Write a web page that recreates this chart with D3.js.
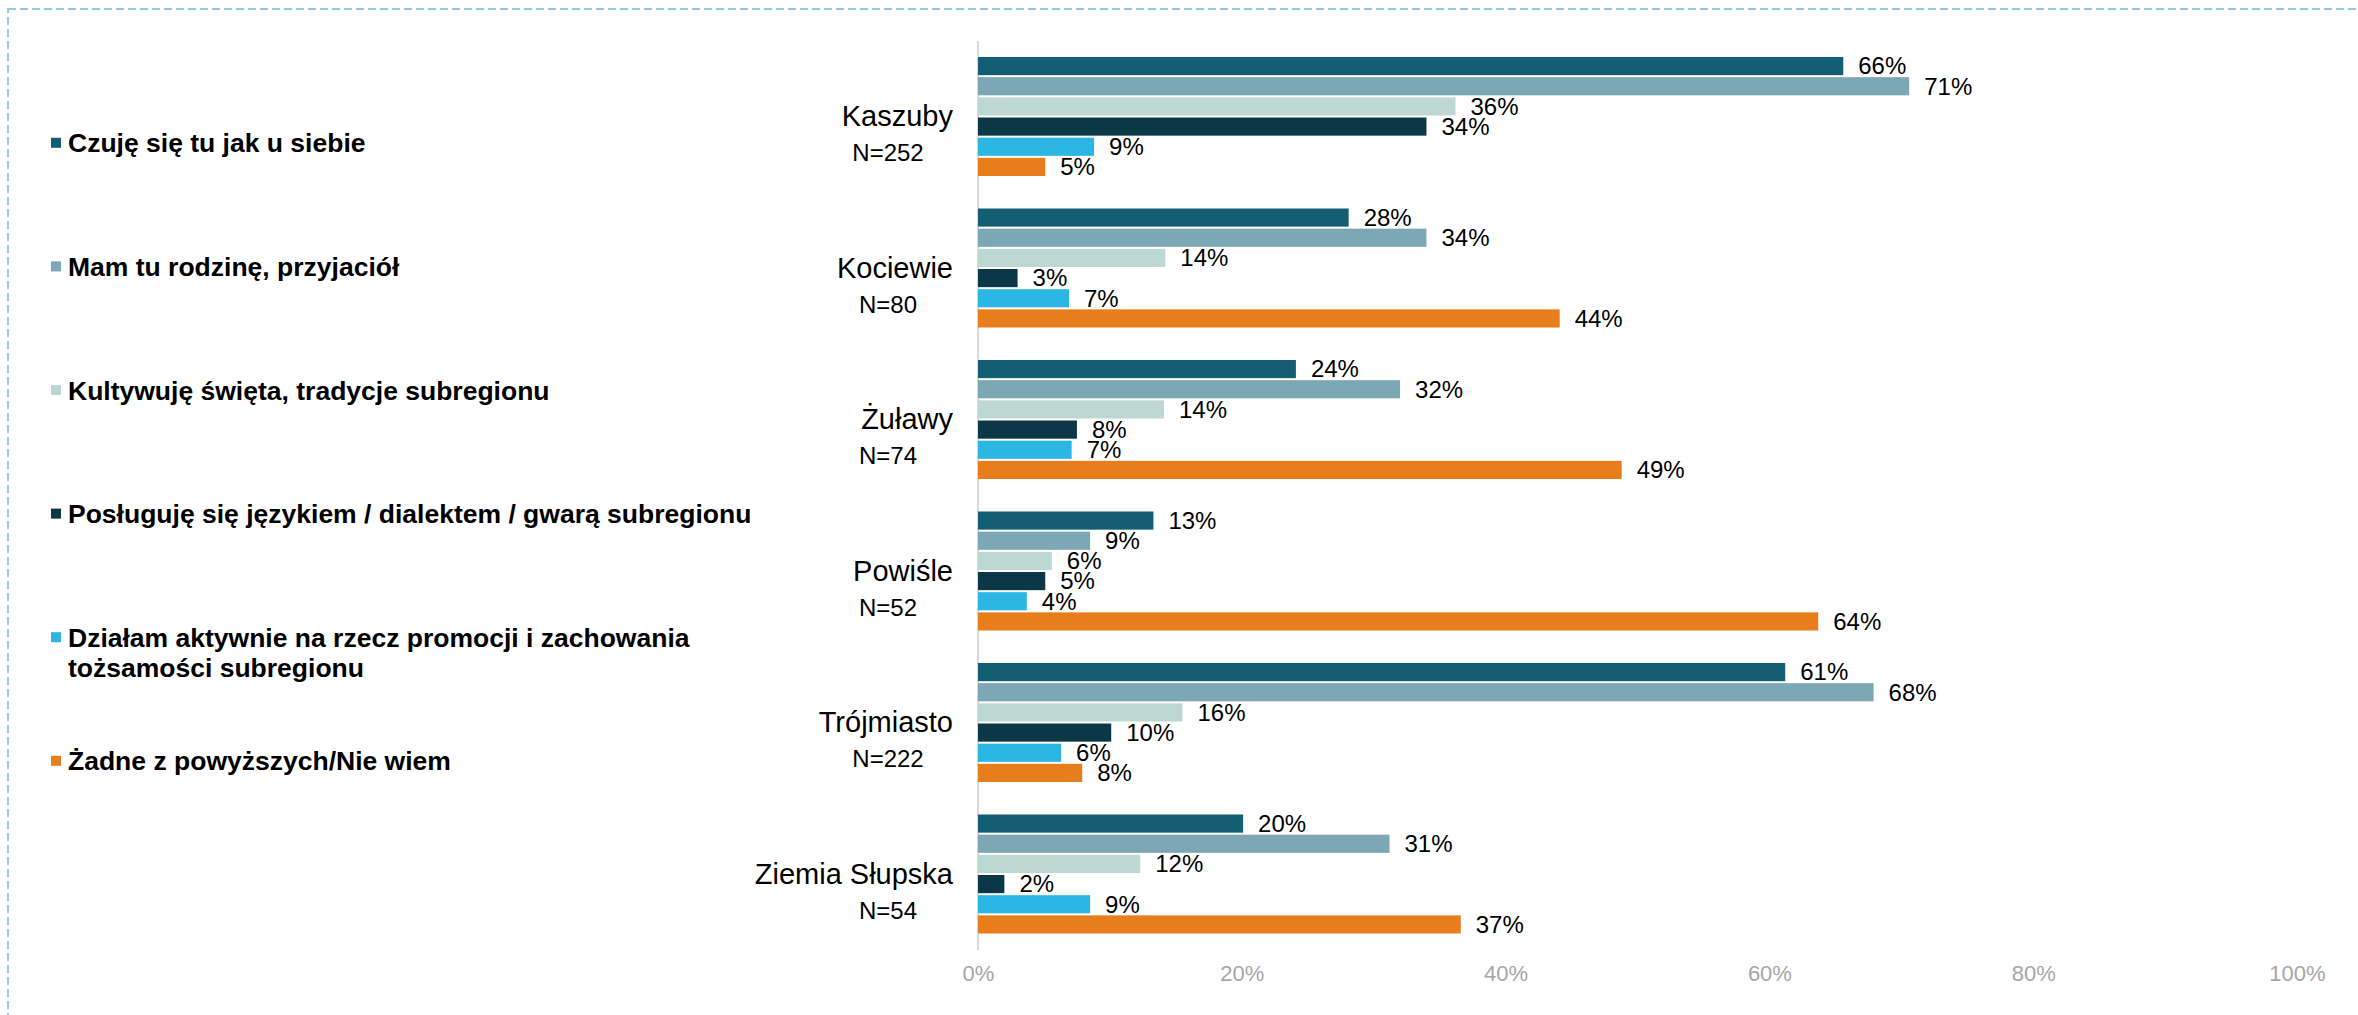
<!DOCTYPE html>
<html>
<head>
<meta charset="utf-8">
<script src="https://cdn.jsdelivr.net/npm/d3@7"></script>
<style>
  html, body { margin: 0; padding: 0; background: #fff; }
  svg { display: block; font-family: "Liberation Sans", Arial, sans-serif; }
</style>
</head>
<body>
<svg id="chart" width="2358" height="1015"></svg>
<script>
// Subregions and sample sizes
const regions = ['Kaszuby', 'Kociewie', 'Żuławy', 'Powiśle', 'Trójmiasto', 'Ziemia Słupska'];
const sampleSizes = ['N=252', 'N=80', 'N=74', 'N=52', 'N=222', 'N=54'];

// Answers (legend order = bar order inside each group)
const answers = [
  ['Czuję się tu jak u siebie'],
  ['Mam tu rodzinę, przyjaciół'],
  ['Kultywuję święta, tradycje subregionu'],
  ['Posługuję się językiem / dialektem / gwarą subregionu'],
  ['Działam aktywnie na rzecz promocji i zachowania', 'tożsamości subregionu'],
  ['Żadne z powyższych/Nie wiem']
];
const colors = ['#135E73', '#7DA7B4', '#BDD7D3', '#0B3747', '#2BB6E3', '#E87D1B'];

// Percent values per answer, in region order
const feelAtHome   = [65.6, 28.1, 24.1, 13.3, 61.2, 20.1];
const family       = [70.6, 34.0, 32.0, 8.5, 67.9, 31.2];
const traditions   = [36.2, 14.2, 14.1, 5.6, 15.5, 12.3];
const dialect      = [34.0, 3.0, 7.5, 5.1, 10.1, 2.0];
const promotion    = [8.8, 6.9, 7.1, 3.7, 6.3, 8.5];
const noneOfThese  = [5.1, 44.1, 48.8, 63.7, 7.9, 36.6];

const tickValues = [0, 20, 40, 60, 80, 100];

const series = [feelAtHome, family, traditions, dialect, promotion, noneOfThese];

const svg = d3.select('#chart');

// dashed frame
svg.append('rect')
  .attr('x', 8).attr('y', 9)
  .attr('width', 2400).attr('height', 1100)
  .attr('fill', 'none')
  .attr('stroke', '#92CDDC')
  .attr('stroke-width', 2)
  .attr('stroke-dasharray', '8,4');

const x = d3.scaleLinear().domain([0, 100]).range([978, 2297]);
const y0 = d3.scaleBand().domain(regions).range([41, 950]);
const y1 = d3.scaleBand().domain(d3.range(series.length)).range([16, 135]).paddingInner(0.1);

// vertical axis line
svg.append('line')
  .attr('x1', x(0)).attr('x2', x(0))
  .attr('y1', y0.range()[0]).attr('y2', y0.range()[1])
  .attr('stroke', '#D9D9D9')
  .attr('stroke-width', 2);

// x axis labels
const xAxis = svg.append('g')
  .attr('transform', `translate(0,${y0.range()[1]})`)
  .call(d3.axisBottom(x).tickValues(tickValues).tickFormat(d => d + '%').tickSize(0).tickPadding(15));
xAxis.select('.domain').remove();
xAxis.selectAll('text')
  .attr('fill', '#A6A6A6')
  .style('font-size', '22px')
  .style('font-family', '"Liberation Sans", Arial, sans-serif');

// groups
const groups = svg.selectAll('g.region')
  .data(regions)
  .join('g')
  .attr('class', 'region')
  .attr('transform', d => `translate(0,${y0(d)})`);

groups.append('text')
  .attr('x', 953)
  .attr('y', 85)
  .attr('text-anchor', 'end')
  .style('font-size', '29px')
  .attr('fill', '#000')
  .text(d => d);

groups.append('text')
  .attr('x', 888)
  .attr('y', 120)
  .attr('text-anchor', 'middle')
  .style('font-size', '24px')
  .attr('fill', '#000')
  .text((d, i) => sampleSizes[i]);

groups.each(function (region, ri) {
  const g = d3.select(this);
  const vals = series.map((s, si) => ({ si, v: s[ri] }));

  g.selectAll('rect')
    .data(vals)
    .join('rect')
    .attr('x', x(0))
    .attr('y', d => y1(d.si))
    .attr('width', d => x(d.v) - x(0))
    .attr('height', y1.bandwidth())
    .attr('fill', d => colors[d.si]);

  g.selectAll('text.val')
    .data(vals)
    .join('text')
    .attr('class', 'val')
    .attr('x', d => x(d.v) + 15)
    .attr('y', d => y1(d.si) + y1.bandwidth() / 2)
    .attr('dy', '0.35em')
    .style('font-size', '24px')
    .attr('fill', '#000')
    .text(d => Math.round(d.v) + '%');
});

// legend
const legend = svg.selectAll('g.legend')
  .data(answers)
  .join('g')
  .attr('class', 'legend')
  .attr('transform', (d, i) => `translate(0,${152.3 + i * 123.6})`);

legend.append('rect')
  .attr('x', 51)
  .attr('y', -14.5)
  .attr('width', 10)
  .attr('height', 10)
  .attr('fill', (d, i) => colors[i]);

legend.append('text')
  .attr('x', 68)
  .style('font-size', '26.5px')
  .style('font-weight', 'bold')
  .attr('fill', '#000')
  .selectAll('tspan')
  .data(d => d)
  .join('tspan')
  .attr('x', 68)
  .attr('y', (d, i) => i * 30.5)
  .text(d => d);
</script>
</body>
</html>
